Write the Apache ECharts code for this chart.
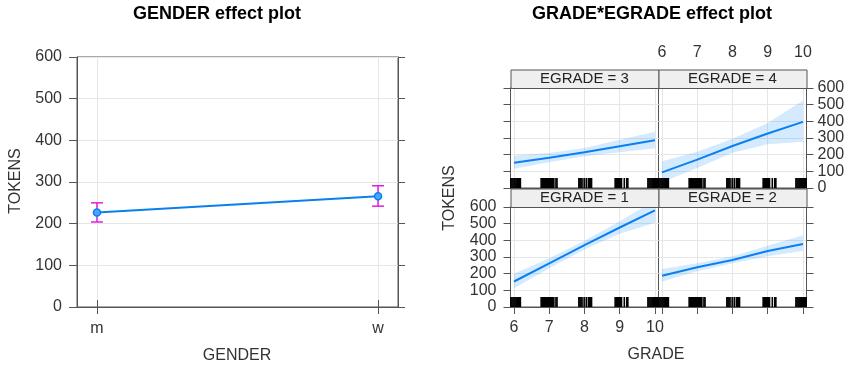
<!DOCTYPE html>
<html>
<head>
<meta charset="utf-8">
<script src="https://cdn.jsdelivr.net/npm/echarts@6/dist/echarts.min.js"></script>
<style>
html, body { margin: 0; padding: 0; background: #ffffff; }
#chart { width: 850px; height: 366px; }
</style>
</head>
<body>
<div id="chart"></div>
<script>
// ---- GENDER effect ----
const genderLevels = ['m', 'w'];
const genderFit = [227, 266];
const genderLower = [204, 242];
const genderUpper = [250, 291];

// ---- GRADE*EGRADE effect ----
const gradeTicks = [6, 7, 8, 9, 10];
const tokenTicks = [0, 100, 200, 300, 400, 500, 600];

const fitE1 = [153, 262, 371, 477, 580];
const lowE1 = [113, 232, 345, 440, 505];
const upE1 = [200, 292, 397, 515, 640];

const fitE2 = [187, 238, 282, 336, 378];
const lowE2 = [153, 215, 262, 305, 338];
const upE2 = [228, 262, 305, 368, 430];

const fitE3 = [151, 181, 214, 251, 287];
const lowE3 = [115, 155, 190, 215, 238];
const upE3 = [195, 210, 240, 290, 338];

const fitE4 = [94, 170, 252, 327, 397];
const lowE4 = [35, 120, 212, 262, 277];
const upE4 = [160, 218, 295, 390, 525];

// observed GRADE values (jittered) shown as a rug in every panel
const gradeRug = [
  5.88, 5.91, 5.94, 5.97, 6.00, 6.03, 6.06, 6.09, 6.12, 6.15, 6.18,
  6.77, 6.80, 6.83, 6.86, 6.89, 6.92, 6.95, 6.98, 7.01, 7.04, 7.07, 7.10, 7.13, 7.19, 7.22,
  7.84, 7.87, 7.90, 7.93, 7.99, 8.05, 8.11, 8.14, 8.17, 8.20,
  8.87, 8.90, 8.93, 8.96, 8.99, 9.02, 9.05, 9.13, 9.20, 9.23,
  9.80, 9.83, 9.86, 9.89, 9.92, 9.95, 9.98, 10.01, 10.04, 10.07, 10.10, 10.13
];

const FONT = '"Liberation Sans", Arial, sans-serif';
const AXIS_COLOR = '#555555';
const GRID_COLOR = '#e6e6e6';
const TEXT_COLOR = '#333333';
const LINE_COLOR = '#0a80f0';
const BAND_COLOR = 'rgba(0,128,255,0.17)';
const BAR_COLOR = '#e01ee0';

// panel layout of the 2x2 lattice
const PANEL_W = 148, PANEL_H = 100, STRIP_H = 18.5;
const panels = [
  { egrade: 3, fit: fitE3, low: lowE3, up: upE3, left: 510.5, top: 88, xPos: 'top', xLab: false, yPos: 'left', yLab: false },
  { egrade: 4, fit: fitE4, low: lowE4, up: upE4, left: 658.5, top: 88, xPos: 'top', xLab: true, yPos: 'right', yLab: true },
  { egrade: 1, fit: fitE1, low: lowE1, up: upE1, left: 510.5, top: 207, xPos: 'bottom', xLab: true, yPos: 'left', yLab: true },
  { egrade: 2, fit: fitE2, low: lowE2, up: upE2, left: 658.5, top: 207, xPos: 'bottom', xLab: false, yPos: 'right', yLab: false }
];

const labelStyle = { fontSize: 16, color: TEXT_COLOR, fontFamily: FONT };

const grids = [{ left: 77, top: 57, width: 321, height: 250, show: true, borderColor: AXIS_COLOR, borderWidth: 1 }];
const xAxes = [
  {
    type: 'value', gridIndex: 0, position: 'bottom', min: 0.929, max: 2.071,
    axisLine: { show: true, lineStyle: { color: AXIS_COLOR } },
    axisTick: { show: true, length: 7, customValues: [1, 2], lineStyle: { color: AXIS_COLOR } },
    axisLabel: Object.assign({ customValues: [1, 2], margin: 14, formatter: v => genderLevels[Math.round(v) - 1] }, labelStyle),
    splitLine: { show: true, lineStyle: { color: GRID_COLOR } }
  },
  {
    type: 'value', gridIndex: 0, position: 'top', min: 0.929, max: 2.071,
    axisLine: { show: true, lineStyle: { color: AXIS_COLOR } },
    axisTick: { show: true, length: 7, customValues: [1, 2], lineStyle: { color: AXIS_COLOR } },
    axisLabel: { show: false }, splitLine: { show: false }
  }
];
const yAxes = [
  {
    type: 'value', gridIndex: 0, position: 'left', min: 0, max: 600, interval: 100,
    axisLine: { show: true, lineStyle: { color: AXIS_COLOR } },
    axisTick: { show: true, length: 8, lineStyle: { color: AXIS_COLOR } },
    axisLabel: Object.assign({ margin: 15 }, labelStyle),
    splitLine: { show: true, lineStyle: { color: GRID_COLOR } }
  },
  {
    type: 'value', gridIndex: 0, position: 'right', min: 0, max: 600, interval: 100,
    axisLine: { show: true, lineStyle: { color: AXIS_COLOR } },
    axisTick: { show: true, length: 7, lineStyle: { color: AXIS_COLOR } },
    axisLabel: { show: false }, splitLine: { show: false }
  }
];

const series = [
  {
    type: 'line', xAxisIndex: 0, yAxisIndex: 0,
    data: genderLevels.map((g, i) => [i + 1, genderFit[i]]),
    symbol: 'circle', symbolSize: 7,
    lineStyle: { color: LINE_COLOR, width: 2 },
    itemStyle: { color: '#4aa5ff', borderColor: LINE_COLOR, borderWidth: 1.5 },
    z: 5
  },
  {
    type: 'custom', xAxisIndex: 0, yAxisIndex: 0,
    data: genderLevels.map((g, i) => [i + 1, genderLower[i], genderUpper[i]]),
    renderItem: (params, api) => {
      const lo = api.coord([api.value(0), api.value(1)]);
      const hi = api.coord([api.value(0), api.value(2)]);
      const half = 6;
      const st = { stroke: BAR_COLOR, lineWidth: 1.5 };
      return {
        type: 'group',
        children: [
          { type: 'line', shape: { x1: lo[0], y1: lo[1], x2: hi[0], y2: hi[1] }, style: st },
          { type: 'line', shape: { x1: lo[0] - half, y1: lo[1], x2: lo[0] + half, y2: lo[1] }, style: st },
          { type: 'line', shape: { x1: hi[0] - half, y1: hi[1], x2: hi[0] + half, y2: hi[1] }, style: st }
        ]
      };
    },
    z: 4
  }
];

const graphics = [];

panels.forEach((p, k) => {
  const gi = k + 1;
  const ai = k + 2;
  grids.push({ left: p.left, top: p.top, width: PANEL_W, height: PANEL_H, show: true, borderColor: AXIS_COLOR, borderWidth: 1 });
  xAxes.push({
    type: 'value', gridIndex: gi, position: p.xPos, min: 5.9, max: 10.1,
    // top axes sit above the strip
    offset: p.xPos === 'top' ? STRIP_H : 0,
    axisLine: { show: true, lineStyle: { color: AXIS_COLOR } },
    axisTick: { show: true, length: 7, customValues: gradeTicks, lineStyle: { color: AXIS_COLOR } },
    axisLabel: Object.assign({ show: p.xLab, customValues: gradeTicks, margin: p.xPos === 'top' ? 9 : 13 }, labelStyle),
    splitLine: { show: true, lineStyle: { color: GRID_COLOR } }
  });
  yAxes.push({
    type: 'value', gridIndex: gi, position: p.yPos, min: 0, max: 600, interval: 100,
    axisLine: { show: true, lineStyle: { color: AXIS_COLOR } },
    axisTick: { show: true, length: 7, lineStyle: { color: AXIS_COLOR } },
    axisLabel: Object.assign({ show: p.yLab, customValues: tokenTicks, margin: p.yPos === 'left' ? 14 : 11 }, labelStyle),
    splitLine: { show: true, lineStyle: { color: GRID_COLOR } }
  });

  // confidence band
  series.push({
    type: 'custom', xAxisIndex: ai, yAxisIndex: ai, clip: true, silent: true,
    data: [[8, 300]],
    renderItem: (params, api) => {
      const pts = [];
      gradeTicks.forEach((g, i) => pts.push(api.coord([g, p.up[i]])));
      for (let i = gradeTicks.length - 1; i >= 0; i--) pts.push(api.coord([gradeTicks[i], p.low[i]]));
      return { type: 'polygon', shape: { points: pts }, style: { fill: BAND_COLOR } };
    },
    z: 2
  });
  // fitted effect
  series.push({
    type: 'line', xAxisIndex: ai, yAxisIndex: ai, clip: true,
    data: gradeTicks.map((g, i) => [g, p.fit[i]]),
    showSymbol: false, symbol: 'none',
    lineStyle: { color: LINE_COLOR, width: 2 },
    z: 4
  });
  // rug of observed GRADE values
  series.push({
    type: 'custom', xAxisIndex: ai, yAxisIndex: ai, clip: true, silent: true,
    data: gradeRug.map(v => [v, 0]),
    renderItem: (params, api) => {
      const c = api.coord([api.value(0), 0]);
      return { type: 'rect', shape: { x: c[0] - 0.8, y: c[1] - 10, width: 1.6, height: 10 }, style: { fill: '#000000' } };
    },
    z: 3
  });

  // strip above each panel
  graphics.push({
    type: 'rect', left: p.left, top: p.top - STRIP_H,
    shape: { width: PANEL_W, height: STRIP_H },
    style: { fill: '#efefef', stroke: AXIS_COLOR, lineWidth: 1 },
    z: 10
  });
  graphics.push({
    type: 'text', x: p.left + PANEL_W / 2, y: p.top - 9,
    style: { text: 'EGRADE = ' + p.egrade, font: '15px ' + FONT, fill: '#222222', textAlign: 'center', textVerticalAlign: 'middle' },
    z: 11
  });
});

// titles and axis titles
graphics.push(
  { type: 'text', x: 217, y: 14, style: { text: 'GENDER effect plot', font: 'bold 18px ' + FONT, fill: '#000000', textAlign: 'center', textVerticalAlign: 'middle' } },
  { type: 'text', x: 652, y: 14, style: { text: 'GRADE*EGRADE effect plot', font: 'bold 18px ' + FONT, fill: '#000000', textAlign: 'center', textVerticalAlign: 'middle' } },
  { type: 'text', x: 16, y: 181, rotation: Math.PI / 2, style: { text: 'TOKENS', font: '16px ' + FONT, fill: TEXT_COLOR, textAlign: 'center', textVerticalAlign: 'middle' } },
  { type: 'text', x: 237, y: 356, style: { text: 'GENDER', font: '16px ' + FONT, fill: TEXT_COLOR, textAlign: 'center', textVerticalAlign: 'middle' } },
  { type: 'text', x: 450, y: 198, rotation: Math.PI / 2, style: { text: 'TOKENS', font: '16px ' + FONT, fill: TEXT_COLOR, textAlign: 'center', textVerticalAlign: 'middle' } },
  { type: 'text', x: 656, y: 355, style: { text: 'GRADE', font: '16px ' + FONT, fill: TEXT_COLOR, textAlign: 'center', textVerticalAlign: 'middle' } }
);

const chart = echarts.init(document.getElementById('chart'), null, { renderer: 'canvas' });
chart.setOption({
  animation: false,
  backgroundColor: '#ffffff',
  textStyle: { fontFamily: FONT },
  grid: grids,
  xAxis: xAxes,
  yAxis: yAxes,
  series: series,
  graphic: { elements: graphics }
});
</script>
</body>
</html>
